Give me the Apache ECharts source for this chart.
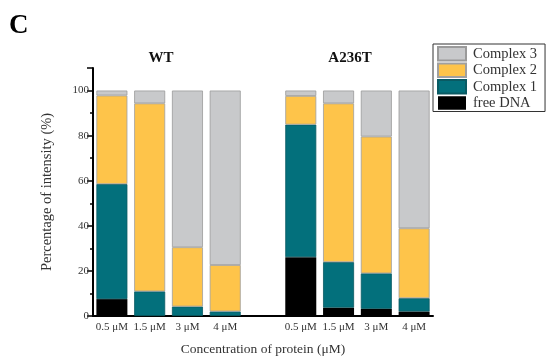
<!DOCTYPE html>
<html>
<head>
<meta charset="utf-8">
<script src="https://cdn.jsdelivr.net/npm/echarts@6/dist/echarts.min.js"></script>
<style>html,body{margin:0;padding:0;background:#fff}#c{width:550px;height:361px}</style>
</head>
<body>
<div id="c"></div>
<script>
var categories = ['0.5 μM','1.5 μM','3 μM','4 μM','','0.5 μM ','1.5 μM ','3 μM ','4 μM '];
var freeDNA  = [7.5, 0, 0, 0, null, 26.1, 3.7, 3.2, 2.0];
var complex1 = [51.0, 10.9, 4.2, 2.0, null, 58.8, 20.2, 15.7, 5.9];
var complex2 = [39.3, 83.4, 26.3, 20.6, null, 12.7, 70.4, 60.7, 31.0];
var complex3 = [2.2, 5.7, 69.5, 77.4, null, 2.4, 5.7, 20.4, 61.1];
var legendOrder = ['Complex 3','Complex 2','Complex 1','free DNA'];
var groupTitles = ['WT','A236T'];
var panelLabel = 'C';

var FONT = '"Liberation Serif","Times New Roman",serif';
var chart = echarts.init(document.getElementById('c'), null, {renderer:'canvas'});

function bar(name, data, color, border){
  return {
    name: name, type: 'bar', stack: 'all', data: data, barWidth: 31,
    itemStyle: {color: color, borderColor: border, borderWidth: border ? 0.8 : 0},
    emphasis: {disabled: true}, animation: false
  };
}

chart.setOption({
  animation: false,
  textStyle: {fontFamily: FONT},
  title: [
    {text: panelLabel, left: 4, top: 8, textStyle: {fontFamily: FONT, fontSize: 27, fontWeight: 'bold', color: '#000'}},
    {text: groupTitles[0], left: 156, top: 46, textAlign: 'center', textStyle: {fontFamily: FONT, fontSize: 15, fontWeight: 'bold', color: '#111'}},
    {text: groupTitles[1], left: 345, top: 46, textAlign: 'center', textStyle: {fontFamily: FONT, fontSize: 15, fontWeight: 'bold', color: '#111'}}
  ],
  legend: {
    orient: 'vertical', left: 433, top: 44,
    data: legendOrder,
    itemWidth: 28, itemHeight: 13.5, itemGap: 1,
    padding: [2, 8, 1, 4],
    borderColor: '#333', borderWidth: 1,
    icon: 'rect',
    selectedMode: false,
    textStyle: {fontFamily: FONT, fontSize: 14.5, color: '#333', padding: [0,0,0,2]}
  },
  grid: {left: 93, right: 117, top: 68, bottom: 41, containLabel: false},
  xAxis: {
    type: 'category', data: categories,
    name: 'Concentration of protein (μM)', nameLocation: 'middle', nameGap: 26,
    nameTextStyle: {fontFamily: FONT, fontSize: 13.5, color: '#333'},
    axisLine: {lineStyle: {color: '#000', width: 2}},
    axisTick: {show: false},
    axisLabel: {fontFamily: FONT, fontSize: 11, color: '#333', margin: 6, interval: 0,
      formatter: function(v){ return v.trim(); }}
  },
  yAxis: {
    type: 'value', min: 0, max: 110, interval: 20,
    name: 'Percentage of intensity (%)', nameLocation: 'middle', nameGap: 38,
    nameTextStyle: {fontFamily: FONT, fontSize: 14.5, color: '#333'},
    axisLine: {show: true, lineStyle: {color: '#000', width: 2}},
    axisTick: {show: true, inside: false, length: 6, lineStyle: {color: '#000', width: 1.5}},
    minorTick: {show: true, splitNumber: 2, length: 3, lineStyle: {color: '#000', width: 1.5}},
    splitLine: {show: false},
    axisLabel: {fontFamily: FONT, fontSize: 11, color: '#333', margin: 4, showMaxLabel: false}
  },
  series: [
    bar('free DNA', freeDNA, '#000000', null),
    bar('Complex 1', complex1, '#03707C', '#0a5a63'),
    bar('Complex 2', complex2, '#FEC44A', '#a0a0a0'),
    bar('Complex 3', complex3, '#C8C9CB', '#9a9a9a')
  ]
});
</script>
</body>
</html>
